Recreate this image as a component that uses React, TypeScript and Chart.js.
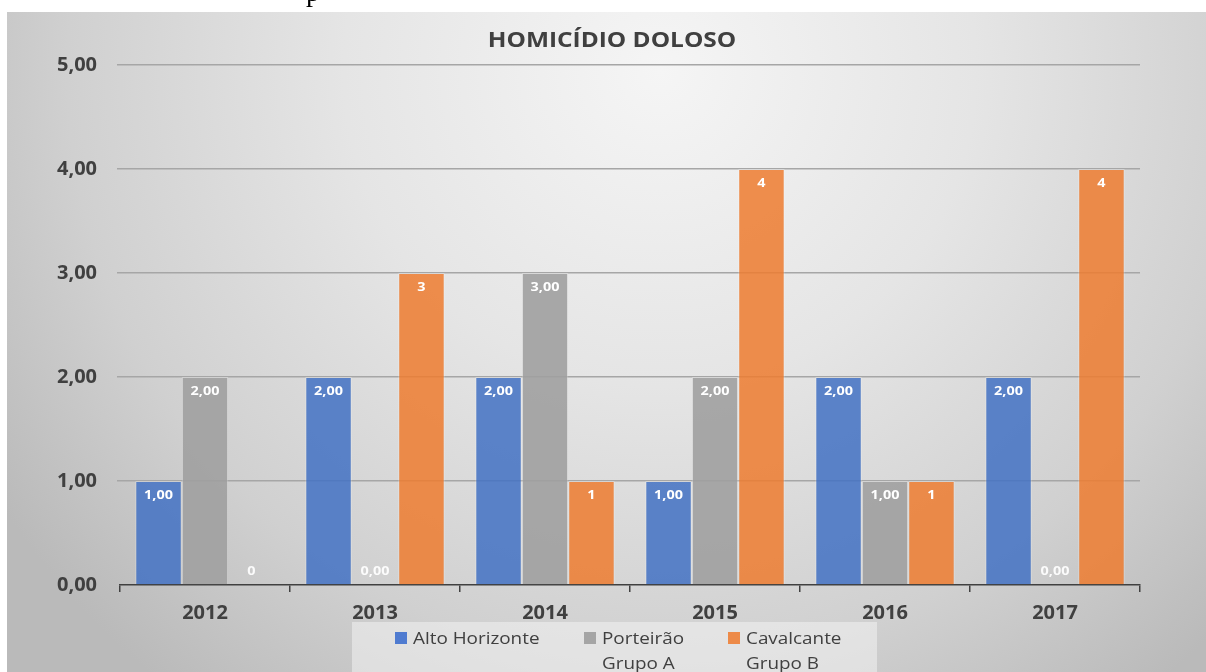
import React, { useEffect, useRef } from "react";
import { Chart, registerables } from "chart.js";

Chart.register(...registerables);

const chartTitle = "HOMICÍDIO DOLOSO";
const years = ["2012", "2013", "2014", "2015", "2016", "2017"];
const altoHorizonte = [1, 2, 2, 1, 2, 2];
const porteirao = [2, 0, 3, 2, 1, 0];
const cavalcante = [0, 3, 1, 4, 1, 4];
const yTicks = [0, 1, 2, 3, 4, 5];
const seriesNames = ["Alto Horizonte", "Porteirão Grupo A", "Cavalcante Grupo B"];
const legendLines = [["Alto Horizonte"], ["Porteirão", "Grupo A"], ["Cavalcante", "Grupo B"]];
const seriesColors = ["rgba(68,114,196,0.86)", "rgba(160,160,160,0.9)", "rgba(237,125,49,0.86)"];
const legendColors = ["#4f7bd0", "#a5a5a5", "#ed8a48"];

const fmt2 = (v: number) => v.toFixed(2).replace(".", ",");
const fmt0 = (v: number) => String(v);
const labelFormats = [fmt2, fmt2, fmt0];

const FONT = "'Open Sans', 'DejaVu Sans', sans-serif";
const W = 1206;
const H = 672;
const STRETCH = 1.11;

const backgroundPlugin = {
  id: "bg",
  beforeDraw(chart: any) {
    const ctx = chart.ctx;
    ctx.save();
    ctx.fillStyle = "#ffffff";
    ctx.fillRect(0, 0, W, H);
    const g = ctx.createRadialGradient(660, 70, 0, 660, 70, 790);
    g.addColorStop(0, "#f5f5f5");
    g.addColorStop(0.4, "#e5e5e5");
    g.addColorStop(0.75, "#d0d0d0");
    g.addColorStop(1, "#bababa");
    ctx.fillStyle = g;
    ctx.fillRect(7, 12, W - 7, H - 12);
    ctx.fillStyle = "#000";
    ctx.font = "28px 'Liberation Serif', serif";
    ctx.textBaseline = "alphabetic";
    ctx.textAlign = "left";
    ctx.fillText("p", 306, 1);
    ctx.restore();
  },
};

function stretchedText(ctx: any, text: string, x: number, y: number) {
  ctx.save();
  ctx.translate(x, y);
  ctx.scale(STRETCH, 1);
  ctx.fillText(text, 0, 0);
  ctx.restore();
}

const decorPlugin = {
  id: "decor",
  afterDatasetsDraw(chart: any) {
    const ctx = chart.ctx;
    ctx.save();
    ctx.font = `bold 13px ${FONT}`;
    ctx.textAlign = "center";
    ctx.textBaseline = "middle";
    chart.data.datasets.forEach((ds: any, i: number) => {
      const meta = chart.getDatasetMeta(i);
      meta.data.forEach((bar: any, j: number) => {
        const v = ds.data[j];
        const text = labelFormats[i](v);
        const y = v === 0 ? bar.base - 14 : bar.y + 14;
        ctx.fillStyle = v === 0 ? "rgba(255,255,255,0.92)" : "#ffffff";
        stretchedText(ctx, text, bar.x, y);
      });
    });
    ctx.restore();
  },
  afterDraw(chart: any) {
    const ctx = chart.ctx;
    ctx.save();
    // title
    ctx.fillStyle = "#404040";
    ctx.font = `bold 22px ${FONT}`;
    ctx.textAlign = "center";
    ctx.textBaseline = "middle";
    stretchedText(ctx, chartTitle, 612, 41);
    // legend box
    ctx.fillStyle = "rgba(246,246,246,0.5)";
    ctx.fillRect(352, 622, 525, 50);
    const squareX = [395, 584, 728];
    ctx.font = `17px ${FONT}`;
    ctx.textAlign = "left";
    legendLines.forEach((lines, i) => {
      ctx.fillStyle = legendColors[i];
      ctx.fillRect(squareX[i], 632, 12, 12);
      ctx.fillStyle = "#404040";
      lines.forEach((line, k) => {
        stretchedText(ctx, line, squareX[i] + 18, 639 + k * 25);
      });
    });
    ctx.restore();
  },
};

export default function App() {
  const ref = useRef<HTMLCanvasElement | null>(null);
  useEffect(() => {
    document.body.style.margin = "0";
    const canvas = ref.current!;
    const chart = new Chart(canvas, {
      type: "bar",
      data: {
        labels: years,
        datasets: [altoHorizonte, porteirao, cavalcante].map((d, i) => ({
          label: seriesNames[i],
          data: d,
          backgroundColor: seriesColors[i],
          borderColor: "rgba(255,255,255,0.3)",
          borderWidth: 1,
        })),
      },
      options: {
        responsive: false,
        animation: false,
        devicePixelRatio: 1,
        layout: { padding: { left: 0, right: 66, top: 65, bottom: 0 } },
        datasets: { bar: { categoryPercentage: 0.82, barPercentage: 1 } },
        plugins: {
          legend: { display: false },
          title: { display: false },
          tooltip: { enabled: false },
        },
        scales: {
          x: {
            grid: {
              drawOnChartArea: false,
              tickLength: 7,
              color: "#404040",
              lineWidth: 1.5,
              offset: true,
            },
            border: { color: "#404040", width: 1.5 },
            ticks: {
              font: { family: FONT, size: 20, weight: "bold" },
              color: "#404040",
              padding: 9,
            },
            afterFit: (s: any) => {
              s.height = 87;
            },
          },
          y: {
            min: 0,
            max: 5,
            afterBuildTicks: (s: any) => {
              s.ticks = yTicks.map((v) => ({ value: v }));
            },
            ticks: {
              callback: (v: any) => fmt2(Number(v)),
              font: { family: FONT, size: 20, weight: "bold" },
              color: "#404040",
              padding: 20,
            },
            grid: {
              color: (c: any) => (c.tick && c.tick.value === 0 ? "rgba(0,0,0,0)" : "#a6a6a6"),
              lineWidth: 1.5,
              tickLength: 3,
            },
            border: { display: false },
            afterFit: (s: any) => {
              s.width = 120;
            },
          },
        },
      },
      plugins: [backgroundPlugin, decorPlugin],
    });
    return () => chart.destroy();
  }, []);
  return <canvas ref={ref} width={W} height={H} style={{ display: "block" }} />;
}
